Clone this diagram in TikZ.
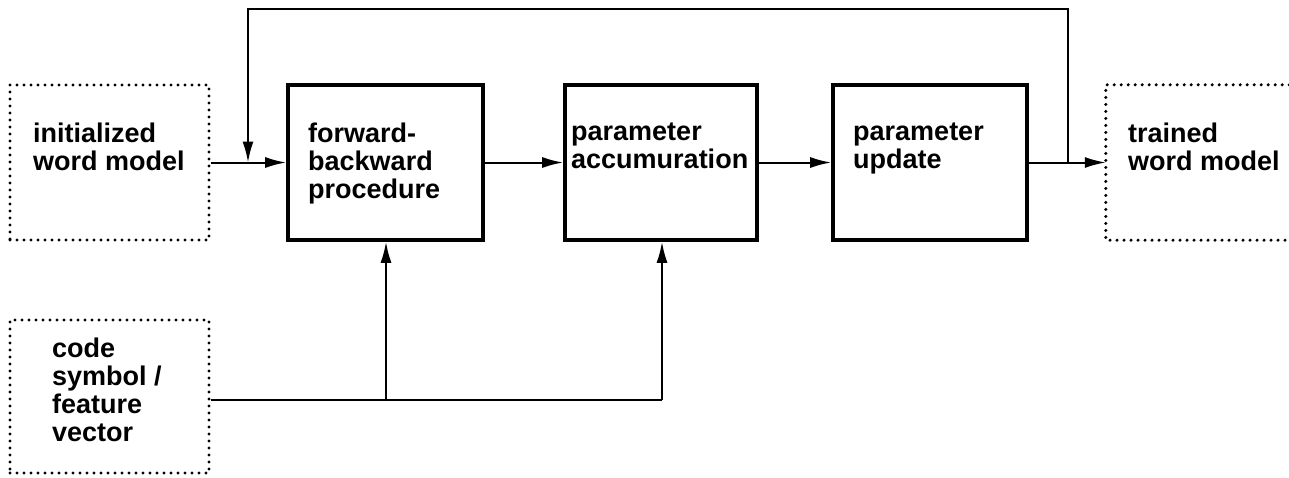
\documentclass[tikz,border=0pt]{standalone}
\usepackage{fontspec}
\setmainfont{Liberation Sans}
\usetikzlibrary{arrows.meta}

\begin{document}
\begin{tikzpicture}[x=1pt,y=-1pt,
  solidbox/.style={draw, line width=3.6pt, rectangle, inner sep=0pt},
  dotbox/.style={draw, line width=3.4pt, line cap=round, dash pattern=on 0pt off 7pt},
  label/.style={anchor=north west, inner sep=0pt, align=left,
                font=\fontsize{27}{28}\selectfont\bfseries},
  conn/.style={line width=2pt},
  arr/.style={conn, -{Latex[length=21pt,width=11pt]}}
]
\useasboundingbox (0,0) rectangle (1289,477);

% input boxes (dotted)
\node[dotbox, minimum width=199pt, minimum height=155pt] (init) at (109.5,162.5) {};
\node[dotbox, minimum width=199pt, minimum height=153pt] (code) at (109.5,396.5) {};
\node[label] (initt) at (33,123) {initialized\\word model};
\node[label] (codet) at (52,338) {code\\symbol /\\feature\\vector};

% processing boxes
\node[solidbox, minimum width=195pt, minimum height=155pt] (fb) at (385.5,162.5) {};
\node[solidbox, minimum width=192pt, minimum height=155pt] (pa) at (661,162.5) {};
\node[solidbox, minimum width=194pt, minimum height=155pt] (pu) at (930,162.5) {};
\node[label] (fbt) at (308,123) {forward-\\backward\\procedure};
\node[label] (pat) at (571,123) {parameter\\accumuration};
\node[label] (put) at (853,123) {parameter\\update};

% output box, open on the right
\node[minimum width=183pt, minimum height=155pt, inner sep=0pt] (tr) at (1197.5,162.5) {};
\draw[dotbox] (tr.north east) -- (tr.north west) -- (tr.south west) -- (tr.south east);
\node[label] (trt) at (1128,123) {trained\\word model};

% main flow
\draw[arr] (init.east) -- (fb.west);
\draw[arr] (fb.east) -- (pa.west);
\draw[arr] (pa.east) -- (pu.west);
\draw[arr] (pu.east) -- (tr.west);

% feedback loop
\coordinate (tap) at (1068,162.5);
\coordinate (loopL) at (248,9);
\coordinate (fbin) at (248,162.5);
\draw[arr] (tap) |- (loopL) -- (fbin);

% feature input bus
\coordinate (bus) at (662,400);
\coordinate (busfb) at (386,400);
\draw[conn] (code.east |- bus) -- (bus);
\draw[arr] (busfb) -- (busfb |- fb.south);
\draw[arr] (bus) -- (bus |- pa.south);
\end{tikzpicture}
\end{document}
